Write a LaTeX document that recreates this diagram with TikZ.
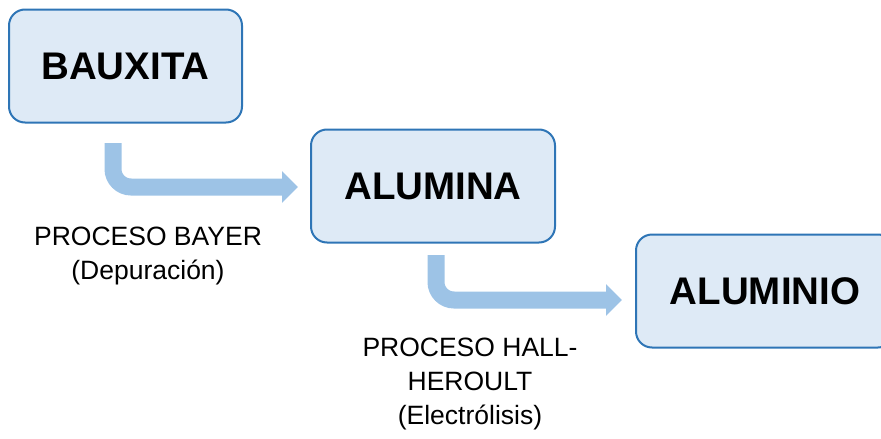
\documentclass[tikz,border=0pt]{standalone}
\usepackage{fontspec}
\setmainfont{Liberation Sans}
\usetikzlibrary{arrows.meta}
\definecolor{boxfill}{HTML}{DEEAF6}
\definecolor{boxline}{HTML}{2E75B6}
\definecolor{arrowcol}{HTML}{9DC3E6}
\begin{document}
\begin{tikzpicture}[x=1pt,y=1pt,
  stagebox/.style={draw=boxline,line width=2pt,fill=boxfill,rounded corners=16pt,
    minimum height=113pt,inner sep=0pt,font=\fontsize{38.5}{46}\selectfont\bfseries},
  flowarrow/.style={draw=arrowcol,line width=17pt,rounded corners=18pt,
    -{Triangle[length=16pt 0 0,width=31pt 0 0]}},
  proclabel/.style={align=center,font=\fontsize{26.5}{34}\selectfont}]
\useasboundingbox (0,0) rectangle (881,-439);
\node[stagebox,minimum width=233pt] (bau) at (125.5,-66) {BAUXITA};
\node[stagebox,minimum width=244pt] (alu) at (433,-186) {ALUMINA};
\node[stagebox,minimum width=258pt] (alo) at (765,-291) {ALUMINIO};
\coordinate (s1) at (113,-143);
\coordinate (t1) at (298,-187);
\coordinate (s2) at (436,-255);
\coordinate (t2) at (622,-300);
\draw[flowarrow] (s1) |- (t1);
\draw[flowarrow] (s2) |- (t2);
\node[proclabel] (l1) at (148,-256) {PROCESO BAYER\\(Depuración)};
\node[proclabel] (l2) at (470,-384) {PROCESO HALL-\\HEROULT\\(Electrólisis)};
\end{tikzpicture}
\end{document}
